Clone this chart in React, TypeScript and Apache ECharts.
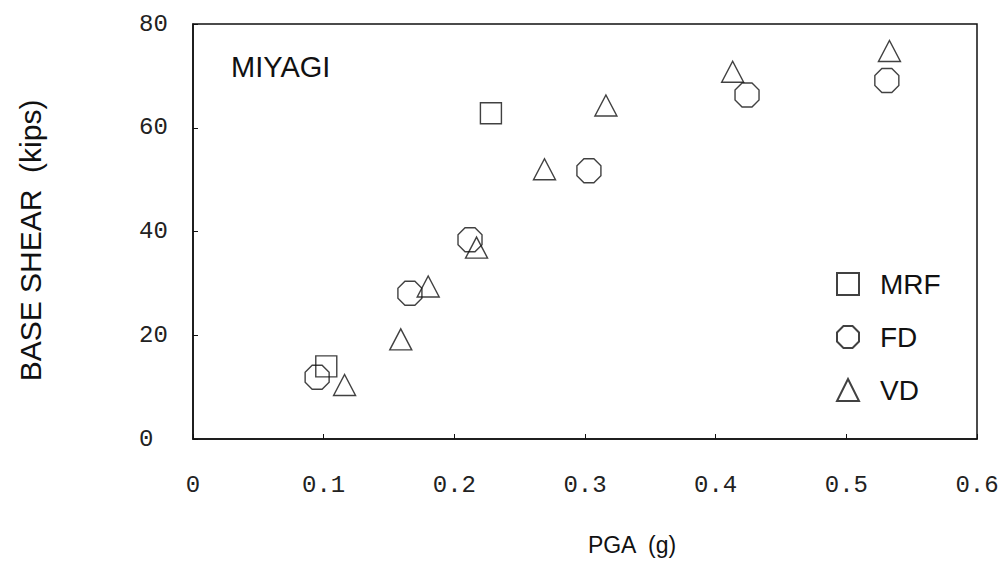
import React, { useEffect, useRef } from "react";
import * as echarts from "echarts";

// PGA (g) vs base shear (kips), Miyagi record
const mrfPga = [0.102, 0.228];
const mrfShear = [14.0, 62.8];

const fdPga = [0.095, 0.166, 0.212, 0.303, 0.424, 0.531];
const fdShear = [11.9, 28.1, 38.4, 51.7, 66.3, 69.1];

const vdPga = [0.116, 0.159, 0.18, 0.217, 0.269, 0.316, 0.413, 0.533];
const vdShear = [10.4, 19.2, 29.4, 36.9, 52.0, 64.3, 70.8, 74.8];

const xTicks = [0, 0.1, 0.2, 0.3, 0.4, 0.5, 0.6];
const yTicks = [0, 20, 40, 60, 80];

const octagon =
  "path://M29.3,0 L70.7,0 L100,29.3 L100,70.7 L70.7,100 L29.3,100 L0,70.7 L0,29.3 Z";

const zip = (xs: number[], ys: number[]) => xs.map((x, i) => [x, ys[i]]);

const markerStyle = {
  color: "rgba(255,255,255,0)",
  borderColor: "#111",
  borderWidth: 1.4,
};

export default function App() {
  const ref = useRef<HTMLDivElement>(null);

  useEffect(() => {
    if (!ref.current) return;
    const chart = echarts.init(ref.current, null, { renderer: "svg" });
    const monoFont = "'Liberation Mono', 'DejaVu Sans Mono', monospace";
    const sansFont = "'Liberation Sans', Arial, sans-serif";

    chart.setOption({
      animation: false,
      backgroundColor: "#fff",
      grid: {
        left: 193,
        top: 24,
        width: 784,
        height: 415,
        show: true,
        borderColor: "#111",
        borderWidth: 1.5,
        backgroundColor: "transparent",
      },
      title: {
        text: "MIYAGI",
        left: 231,
        top: 52,
        padding: 0,
        textStyle: {
          fontFamily: sansFont,
          fontSize: 29,
          fontWeight: "normal",
          color: "#111",
        },
      },
      legend: {
        orient: "vertical",
        left: 836,
        top: 270,
        itemWidth: 22,
        itemHeight: 22,
        itemGap: 25,
        padding: 0,
        textStyle: {
          fontFamily: sansFont,
          fontSize: 28,
          color: "#111",
          padding: [0, 0, 0, 16],
        },
        data: ["MRF", "FD", "VD"],
      },
      xAxis: {
        type: "value",
        min: xTicks[0],
        max: xTicks[xTicks.length - 1],
        interval: 0.1,
        name: "PGA  (g)",
        nameLocation: "middle",
        nameGap: 94,
        nameTextStyle: {
          fontFamily: sansFont,
          fontSize: 23,
          color: "#111",
          padding: [0, 0, 0, 94],
        },
        axisLine: { show: true, lineStyle: { color: "#111", width: 1.5 } },
        axisTick: { show: true, inside: true, length: 5, lineStyle: { color: "#111" } },
        splitLine: { show: false },
        axisLabel: {
          margin: 34,
          fontFamily: monoFont,
          fontSize: 24,
          color: "#222",
          formatter: (v: number) => (v === 0 ? "0" : v.toFixed(1)),
        },
      },
      yAxis: {
        type: "value",
        min: yTicks[0],
        max: yTicks[yTicks.length - 1],
        interval: 20,
        name: "BASE SHEAR  (kips)",
        nameLocation: "middle",
        nameRotate: 90,
        nameGap: 148,
        nameTextStyle: {
          fontFamily: sansFont,
          fontSize: 30,
          color: "#111",
          padding: [0, 18, 0, 0],
        },
        axisLine: { show: true, lineStyle: { color: "#111", width: 1.5 } },
        axisTick: { show: true, inside: true, length: 5, lineStyle: { color: "#111" } },
        splitLine: { show: false },
        axisLabel: {
          margin: 54,
          align: "left",
          fontFamily: monoFont,
          fontSize: 24,
          color: "#222",
        },
      },
      series: [
        {
          name: "MRF",
          type: "scatter",
          symbol: "rect",
          symbolSize: 21,
          itemStyle: markerStyle,
          data: zip(mrfPga, mrfShear),
        },
        {
          name: "FD",
          type: "scatter",
          symbol: octagon,
          symbolSize: 24,
          itemStyle: markerStyle,
          data: zip(fdPga, fdShear),
        },
        {
          name: "VD",
          type: "scatter",
          symbol: "triangle",
          symbolSize: [22, 21],
          itemStyle: markerStyle,
          data: zip(vdPga, vdShear),
        },
      ],
    });

    return () => chart.dispose();
  }, []);

  return (
    <div
      ref={ref}
      style={{ position: "absolute", left: 0, top: 0, width: 1004, height: 573 }}
    />
  );
}
